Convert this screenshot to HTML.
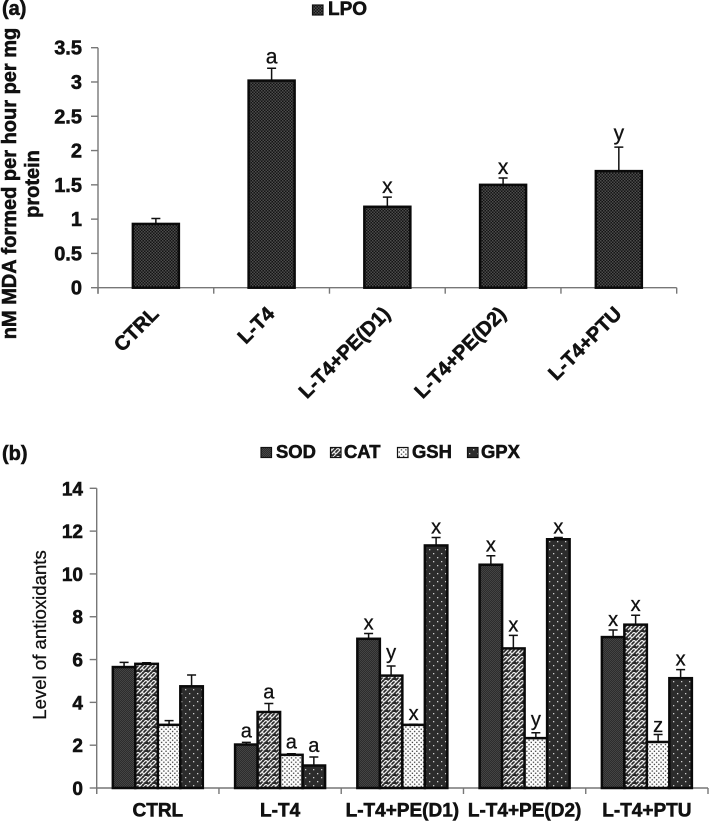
<!DOCTYPE html>
<html lang="en">
<head>
<meta charset="utf-8">
<title>LPO and antioxidant levels</title>
<style>
html,body{margin:0;padding:0;background:#fff;width:709px;height:821px;overflow:hidden}
svg{display:block;filter:blur(.35px)}
text{font-family:"Liberation Sans",Arial,sans-serif;fill:#111;stroke:#111;stroke-width:.3px}
.b,text[font-weight="bold"]{font-weight:bold;stroke-width:.55px}
</style>
</head>
<body>
<svg id="figure" xmlns="http://www.w3.org/2000/svg" width="709" height="821" viewBox="0 0 709 821">
<defs>
<pattern id="p-lpo" width="3" height="3" patternUnits="userSpaceOnUse">
<rect width="3" height="3" fill="#141414"/><rect width="1.5" height="1.5" fill="#4c4c4c"/><rect x="1.5" y="1.5" width="1.5" height="1.5" fill="#4c4c4c"/>
</pattern>
<pattern id="p-sod" width="2" height="2" patternUnits="userSpaceOnUse">
<rect width="2" height="2" fill="#2c2c2c"/><rect width="1" height="1" fill="#444"/><rect x="1" y="1" width="1" height="1" fill="#444"/>
</pattern>
<pattern id="p-cat" width="8" height="8" patternUnits="userSpaceOnUse">
<rect width="8" height="8" fill="#2a2a2a"/>
<path d="M0 2 L2 0 L4 2 L2 4 M4 6 L6 4 L8 6 L6 8 M4 2 L6 0 M0 6 L2 4 M6 4 L8 2" fill="none" stroke="#e8e8e8" stroke-width="1.25"/>
</pattern>
<pattern id="p-gsh" width="4.4" height="4.4" patternUnits="userSpaceOnUse">
<rect width="4.4" height="4.4" fill="#fff"/><rect x=".4" y=".4" width="1.3" height="1.3" fill="#333"/><rect x="2.6" y="2.6" width="1.3" height="1.3" fill="#333"/>
</pattern>
<pattern id="p-gpx" width="8" height="8" patternUnits="userSpaceOnUse">
<rect width="8" height="8" fill="#2c2c2c"/><rect x="1" y="1" width="1.3" height="1.3" fill="#ccc"/><rect x="5" y="5" width="1.3" height="1.3" fill="#ccc"/>
</pattern>
</defs>

<text class="b" x="2" y="15" font-size="20">(a)</text>
<text class="b" x="2" y="460" font-size="20">(b)</text>

<g>
<text class="b" transform="translate(16,183.5) rotate(-90)" text-anchor="middle" font-size="20">nM MDA formed per hour per mg</text>
<text class="b" transform="translate(39,184) rotate(-90)" text-anchor="middle" font-size="20">protein</text>
</g>
<text transform="translate(46,635) rotate(-90)" text-anchor="middle" font-size="18.6">Level of antioxidants</text>

<g>
<rect x="312.5" y="5" width="10.5" height="10" fill="url(#p-lpo)" stroke="#111" stroke-width="1.2"/>
<text class="b" x="328" y="15" font-size="19">LPO</text>
</g>
<g>
<rect x="261" y="447.5" width="10.5" height="10" fill="url(#p-sod)" stroke="#111" stroke-width="1.2"/>
<text class="b" x="276" y="458" font-size="18.4">SOD</text>
<rect x="330.5" y="447.5" width="10.5" height="10" fill="url(#p-cat)" stroke="#111" stroke-width="1.2"/>
<text class="b" x="344" y="458" font-size="18.4">CAT</text>
<rect x="397.5" y="447.5" width="10.5" height="10" fill="url(#p-gsh)" stroke="#111" stroke-width="1.2"/>
<text class="b" x="412" y="458" font-size="18.4">GSH</text>
<rect x="467.5" y="447.5" width="10.5" height="10" fill="url(#p-gpx)" stroke="#111" stroke-width="1.2"/>
<text class="b" x="481" y="458" font-size="18.4">GPX</text>
</g>

<g id="chart-a"></g>
<g id="chart-b"></g>
</svg>

<script>
const categoriesA = ["CTRL", "L-T4", "L-T4+PE(D1)", "L-T4+PE(D2)", "L-T4+PTU"];
const lpoValues = [0.93, 3.02, 1.18, 1.5, 1.7];
const lpoErrorTops = [1.01, 3.2, 1.32, 1.6, 2.05];
const lpoLetters = ["", "a", "x", "x", "y"];
const tickLabelsA = ["0", "0.5", "1", "1.5", "2", "2.5", "3", "3.5"];

const categoriesB = ["CTRL", "L-T4", "L-T4+PE(D1)", "L-T4+PE(D2)", "L-T4+PTU"];
const seriesNamesB = ["sod", "cat", "gsh", "gpx"];
const sodValues = [5.65, 2.03, 6.97, 10.43, 7.05];
const catValues = [5.8, 3.55, 5.25, 6.52, 7.63];
const gshValues = [2.95, 1.55, 2.95, 2.33, 2.15];
const gpxValues = [4.75, 1.05, 11.33, 11.62, 5.13];
const sodErrorTops = [5.87, 2.13, 7.22, 10.85, 7.38];
const catErrorTops = [5.85, 3.95, 5.7, 7.13, 8.07];
const gshErrorTops = [3.15, 1.6, 2.98, 2.58, 2.5];
const gpxErrorTops = [5.28, 1.45, 11.7, 11.7, 5.53];
const sodLetters = ["", "a", "x", "x", "x"];
const catLetters = ["", "a", "y", "x", "x"];
const gshLetters = ["", "a", "x", "y", "z"];
const gpxLetters = ["", "a", "x", "x", "x"];
const tickLabelsB = ["0", "2", "4", "6", "8", "10", "12", "14"];

const NS = "http://www.w3.org/2000/svg";
const AXIS = "#777";

function make(parent, tag, attrs, content) {
  const el = document.createElementNS(NS, tag);
  for (const k in attrs) el.setAttribute(k, attrs[k]);
  if (content !== undefined) el.textContent = content;
  parent.appendChild(el);
  return el;
}

function yA(v) { return 287.7 - v * (240 / 3.5); }
function xA(i) { return 98 + i * (578.7 / categoriesA.length); }
function yB(v) { return 788 - v * (299.7 / 14); }
function xB(i) { return 96.7 + i * (611.3 / categoriesB.length); }
function letterGap(c) { return c === "y" ? 7 : c === "z" ? 2.5 : c === "a" ? 5 : 4; }

function drawAxes(root, xFn, yFn, count, ticks, fontSize, labelX, key) {
  const top = yFn(Number(ticks[ticks.length - 1]));
  const zero = yFn(0);
  const yLine = make(root, "line", {x1: xFn(0), x2: xFn(0), y1: top, y2: zero + 6, stroke: AXIS, "stroke-width": 1.4});
  
  
  const xLine = make(root, "line", {x1: xFn(0), x2: xFn(count), y1: zero, y2: zero, stroke: AXIS, "stroke-width": 1.4});
  
  
  for (let i = 0; i <= count; i++) {
    const t = make(root, "line", {x1: xFn(i), x2: xFn(i), y1: zero, y2: zero + 6, stroke: AXIS, "stroke-width": 1.4});
    
    
  }
  ticks.forEach(function (lab) {
    const v = Number(lab);
    const m = make(root, "line", {x1: xFn(0) - 7, x2: xFn(0), y1: yFn(v), y2: yFn(v), stroke: AXIS, "stroke-width": 1.4});
    
    
    const tx = make(root, "text", {x: labelX, y: yFn(v) + 7, "text-anchor": "end", "font-size": fontSize, "font-weight": "bold"}, lab);
    
    
  });
}

function drawBar(root, cx, w, value, errTop, letter, fill, yFn, capW, fs, name) {
  const err = make(root, "path", {
    d: "M" + cx + " " + yFn(value) + "V" + yFn(errTop) + "M" + (cx - capW / 2) + " " + yFn(errTop) + "H" + (cx + capW / 2),
    fill: "none", stroke: "#111", "stroke-width": 1.5
  });
  
  
  const bar = make(root, "rect", {
    x: cx - w / 2, y: yFn(value), width: w, height: yFn(0) - yFn(value),
    fill: "url(#" + fill + ")", stroke: "#0a0a0a", "stroke-width": 2.5
  });
  
  
  if (letter) {
    const s = make(root, "text", {x: cx, y: yFn(errTop) - letterGap(letter), "text-anchor": "middle", "font-size": fs}, letter);
    
    
  }
}

const chartA = document.getElementById("chart-a");
drawAxes(chartA, xA, yA, categoriesA.length, tickLabelsA, 20, 82, "a");
categoriesA.forEach(function (cat, i) {
  const cx = (xA(i) + xA(i + 1)) / 2;
  drawBar(chartA, cx, 46, lpoValues[i], lpoErrorTops[i], lpoLetters[i], "p-lpo", yA, 9, 21, "lpo-" + i);
  const lab = make(chartA, "text", {
    transform: "translate(" + (cx + 4) + ",315) rotate(-45)",
    "text-anchor": "end", "font-size": 20, "font-weight": "bold"
  }, cat);
  
  
});

const chartB = document.getElementById("chart-b");
drawAxes(chartB, xB, yB, categoriesB.length, tickLabelsB, 19, 83, "b");
const valuesB = [sodValues, catValues, gshValues, gpxValues];
const errorsB = [sodErrorTops, catErrorTops, gshErrorTops, gpxErrorTops];
const lettersB = [sodLetters, catLetters, gshLetters, gpxLetters];
categoriesB.forEach(function (cat, i) {
  const center = (xB(i) + xB(i + 1)) / 2;
  const bw = 22.5;
  seriesNamesB.forEach(function (s, j) {
    const cx = center + (j - 1.5) * bw;
    drawBar(chartB, cx, bw, valuesB[j][i], errorsB[j][i], lettersB[j][i], "p-" + s, yB, 9, 20, s + "-" + i);
  });
  const lab = make(chartB, "text", {x: center, y: 816.5, "text-anchor": "middle", "font-size": 19, "font-weight": "bold"}, cat);
  
  
});
</script>
</body>
</html>
